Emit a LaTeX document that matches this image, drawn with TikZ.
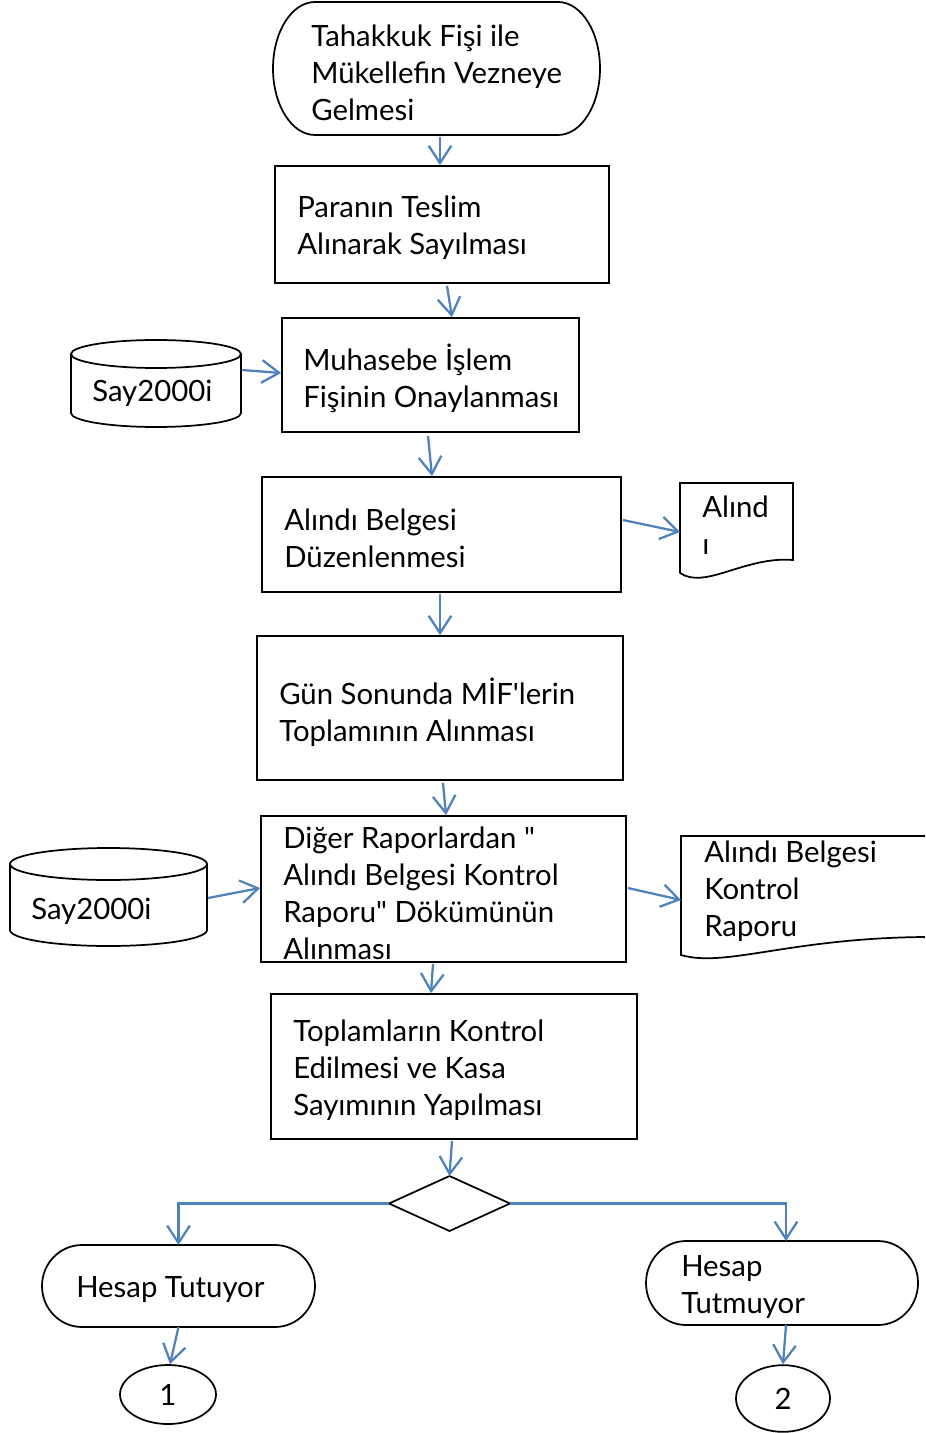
\documentclass[tikz,border=0pt]{standalone}
\usepackage{fontspec}
\setmainfont{Lato}[Ligatures=TeXOff]
\usetikzlibrary{arrows.meta,shapes.geometric,fit}
\definecolor{lnblue}{RGB}{79,129,189}
\tikzset{
  shapeline/.style={draw=black, line width=1.3pt},
  box/.style={shapeline, rectangle, inner sep=0pt},
  frame/.style={inner sep=0pt, outer sep=0pt},
  conn/.style={draw=lnblue, line width=1.7pt, -{Straight Barb[length=13pt,width=17pt]}},
  txt/.style={font=\fontsize{22}{27.75}\selectfont, align=left, inner sep=0pt, anchor=west, yshift=-2.2pt},
  endcircle/.style={shapeline, ellipse, inner sep=0pt, font=\fontsize{22}{27.75}\selectfont}
}
\begin{document}
\begin{tikzpicture}[x=0.75pt,y=-0.75pt]
\useasboundingbox (0,0) rectangle (925,1433);

% start terminal
\node[frame, fit={(273,2) (600,135)}] (s) {};
\draw[shapeline] (315,2) -- (558,2) arc[start angle=-90,end angle=90,x radius=42,y radius=66.5]
  -- (315,135) arc[start angle=90,end angle=270,x radius=42,y radius=66.5] -- cycle;
\node[txt] (ts) at (311,69.5) {Tahakkuk Fişi ile\\Mükellefin Vezneye\\Gelmesi};

% boxes
\node[box, fit={(275,166) (609,283)}] (b2) {};
\node[txt] (t2) at (297,225) {Paranın Teslim\\Alınarak Sayılması};

\node[box, fit={(282,318) (579,432)}] (b3) {};
\node[txt] (t3) at (303,375) {Muhasebe İşlem\\Fişinin Onaylanması};

\node[box, fit={(262,477) (621,592)}] (b4) {};
\node[txt] (t4) at (284,535.5) {Alındı Belgesi\\Düzenlenmesi};

\node[box, fit={(257,636) (623,780)}] (b5) {};
\node[txt] (t5) at (279,709) {Gün Sonunda MİF'lerin\\Toplamının Alınması};

\node[box, fit={(261,816) (626,962)}] (b6) {};
\node[txt] (t6) at (283,890) {Diğer Raporlardan "\\Alındı Belgesi Kontrol\\Raporu" Dökümünün\\Alınması};

\node[box, fit={(271,994) (637,1139)}] (b7) {};
\node[txt] (t7) at (293,1067.5) {Toplamların Kontrol\\Edilmesi ve Kasa\\Sayımının Yapılması};

% cylinder 1
\node[frame, fit={(71,340) (241,427)}] (c1) {};
\draw[shapeline] (156,354) ellipse[x radius=85,y radius=14];
\draw[shapeline] (71,354) -- (71,413) arc[start angle=180,end angle=0,x radius=85,y radius=14] -- (241,354);
\node[txt] (tc1) at (92,390) {Say2000i};

% cylinder 2
\node[frame, fit={(10,848) (207,946)}] (c2) {};
\draw[shapeline] (108.5,864) ellipse[x radius=98.5,y radius=16];
\draw[shapeline] (10,864) -- (10,930) arc[start angle=180,end angle=0,x radius=98.5,y radius=16] -- (207,864);
\node[txt] (tc2) at (31,908) {Say2000i};

% document 1
\node[frame, fit={(680,483) (793,578)}] (d1) {};
\draw[shapeline] (680,573) -- (680,483) -- (793,483) -- (793,560)
  .. controls (745,556) and (705,590) .. (680,573);
\node[txt] (td1) at (702,522.5) {Alınd\\ı};

% document 2
\node[frame, fit={(681,836) (925,960)}] (d2) {};
\draw[shapeline] (925,836) -- (681,836) -- (681,955)
  .. controls (725,968) and (790,938) .. (925,937);
\node[txt] (td2) at (704,888) {Alındı Belgesi\\Kontrol\\Raporu};

% decision
\node[frame, fit={(389,1176) (510,1231)}] (dm) {};
\draw[shapeline] (dm.west) -- (dm.north) -- (dm.east) -- (dm.south) -- cycle;

% bottom terminals
\node[frame, fit={(42,1245) (315,1327)}] (tl) {};
\draw[shapeline] (82,1245) -- (275,1245) arc[start angle=-90,end angle=90,x radius=40,y radius=41]
  -- (82,1327) arc[start angle=90,end angle=270,x radius=40,y radius=41] -- cycle;
\node[txt] (ttl) at (76,1287) {Hesap Tutuyor};

\node[frame, fit={(646,1241) (918,1325)}] (tr) {};
\draw[shapeline] (686,1241) -- (878,1241) arc[start angle=-90,end angle=90,x radius=40,y radius=42]
  -- (686,1325) arc[start angle=90,end angle=270,x radius=40,y radius=42] -- cycle;
\node[txt] (ttr) at (681,1284.5) {Hesap\\Tutmuyor};

% connector circles
\node[endcircle, minimum width=72pt, minimum height=44.25pt] (n1) at (168,1394.5) {1};
\node[endcircle, minimum width=70.5pt, minimum height=50pt] (n2) at (783,1398.5) {2};

% connectors
\draw[conn] ([shift={(3.5,2)}]s.south) -- ([shift={(-2,0)}]b2.north);
\draw[conn] ([shift={(5,2)}]b2.south) -- ([shift={(21.5,0)}]b3.north);
\draw[conn] ([shift={(1,-13.5)}]c1.east) -- ([shift={(0,-2)}]b3.west);
\draw[conn] ([shift={(-2.5,3)}]b3.south) -- ([shift={(-9.5,0)}]b4.north);
\draw[conn] ([shift={(1,-14.5)}]b4.east) -- ([shift={(0,1.5)}]d1.west);
\draw[conn] ([shift={(-1.5,1)}]b4.south) -- (b5.north);
\draw[conn] ([shift={(3,2)}]b5.south) -- ([shift={(2.5,0)}]b6.north);
\draw[conn] ([shift={(1,1)}]c2.east) -- ([shift={(0,-1)}]b6.west);
\draw[conn] ([shift={(1,-1)}]b6.east) -- ([shift={(0,2)}]d2.west);
\draw[conn] ([shift={(-10.5,1)}]b6.south) -- ([shift={(-23,0)}]b7.north);
\draw[conn] ([shift={(-2,1)}]b7.south) -- (dm.north);
\draw[conn] (dm.west) -| (tl.north);
\draw[conn] (dm.east) -| ([shift={(4,0)}]tr.north);
\draw[conn] (tl.south) -- ([shift={(2,0)}]n1.north);
\draw[conn] ([shift={(4,0)}]tr.south) -- (n2.north);
\end{tikzpicture}
\end{document}
